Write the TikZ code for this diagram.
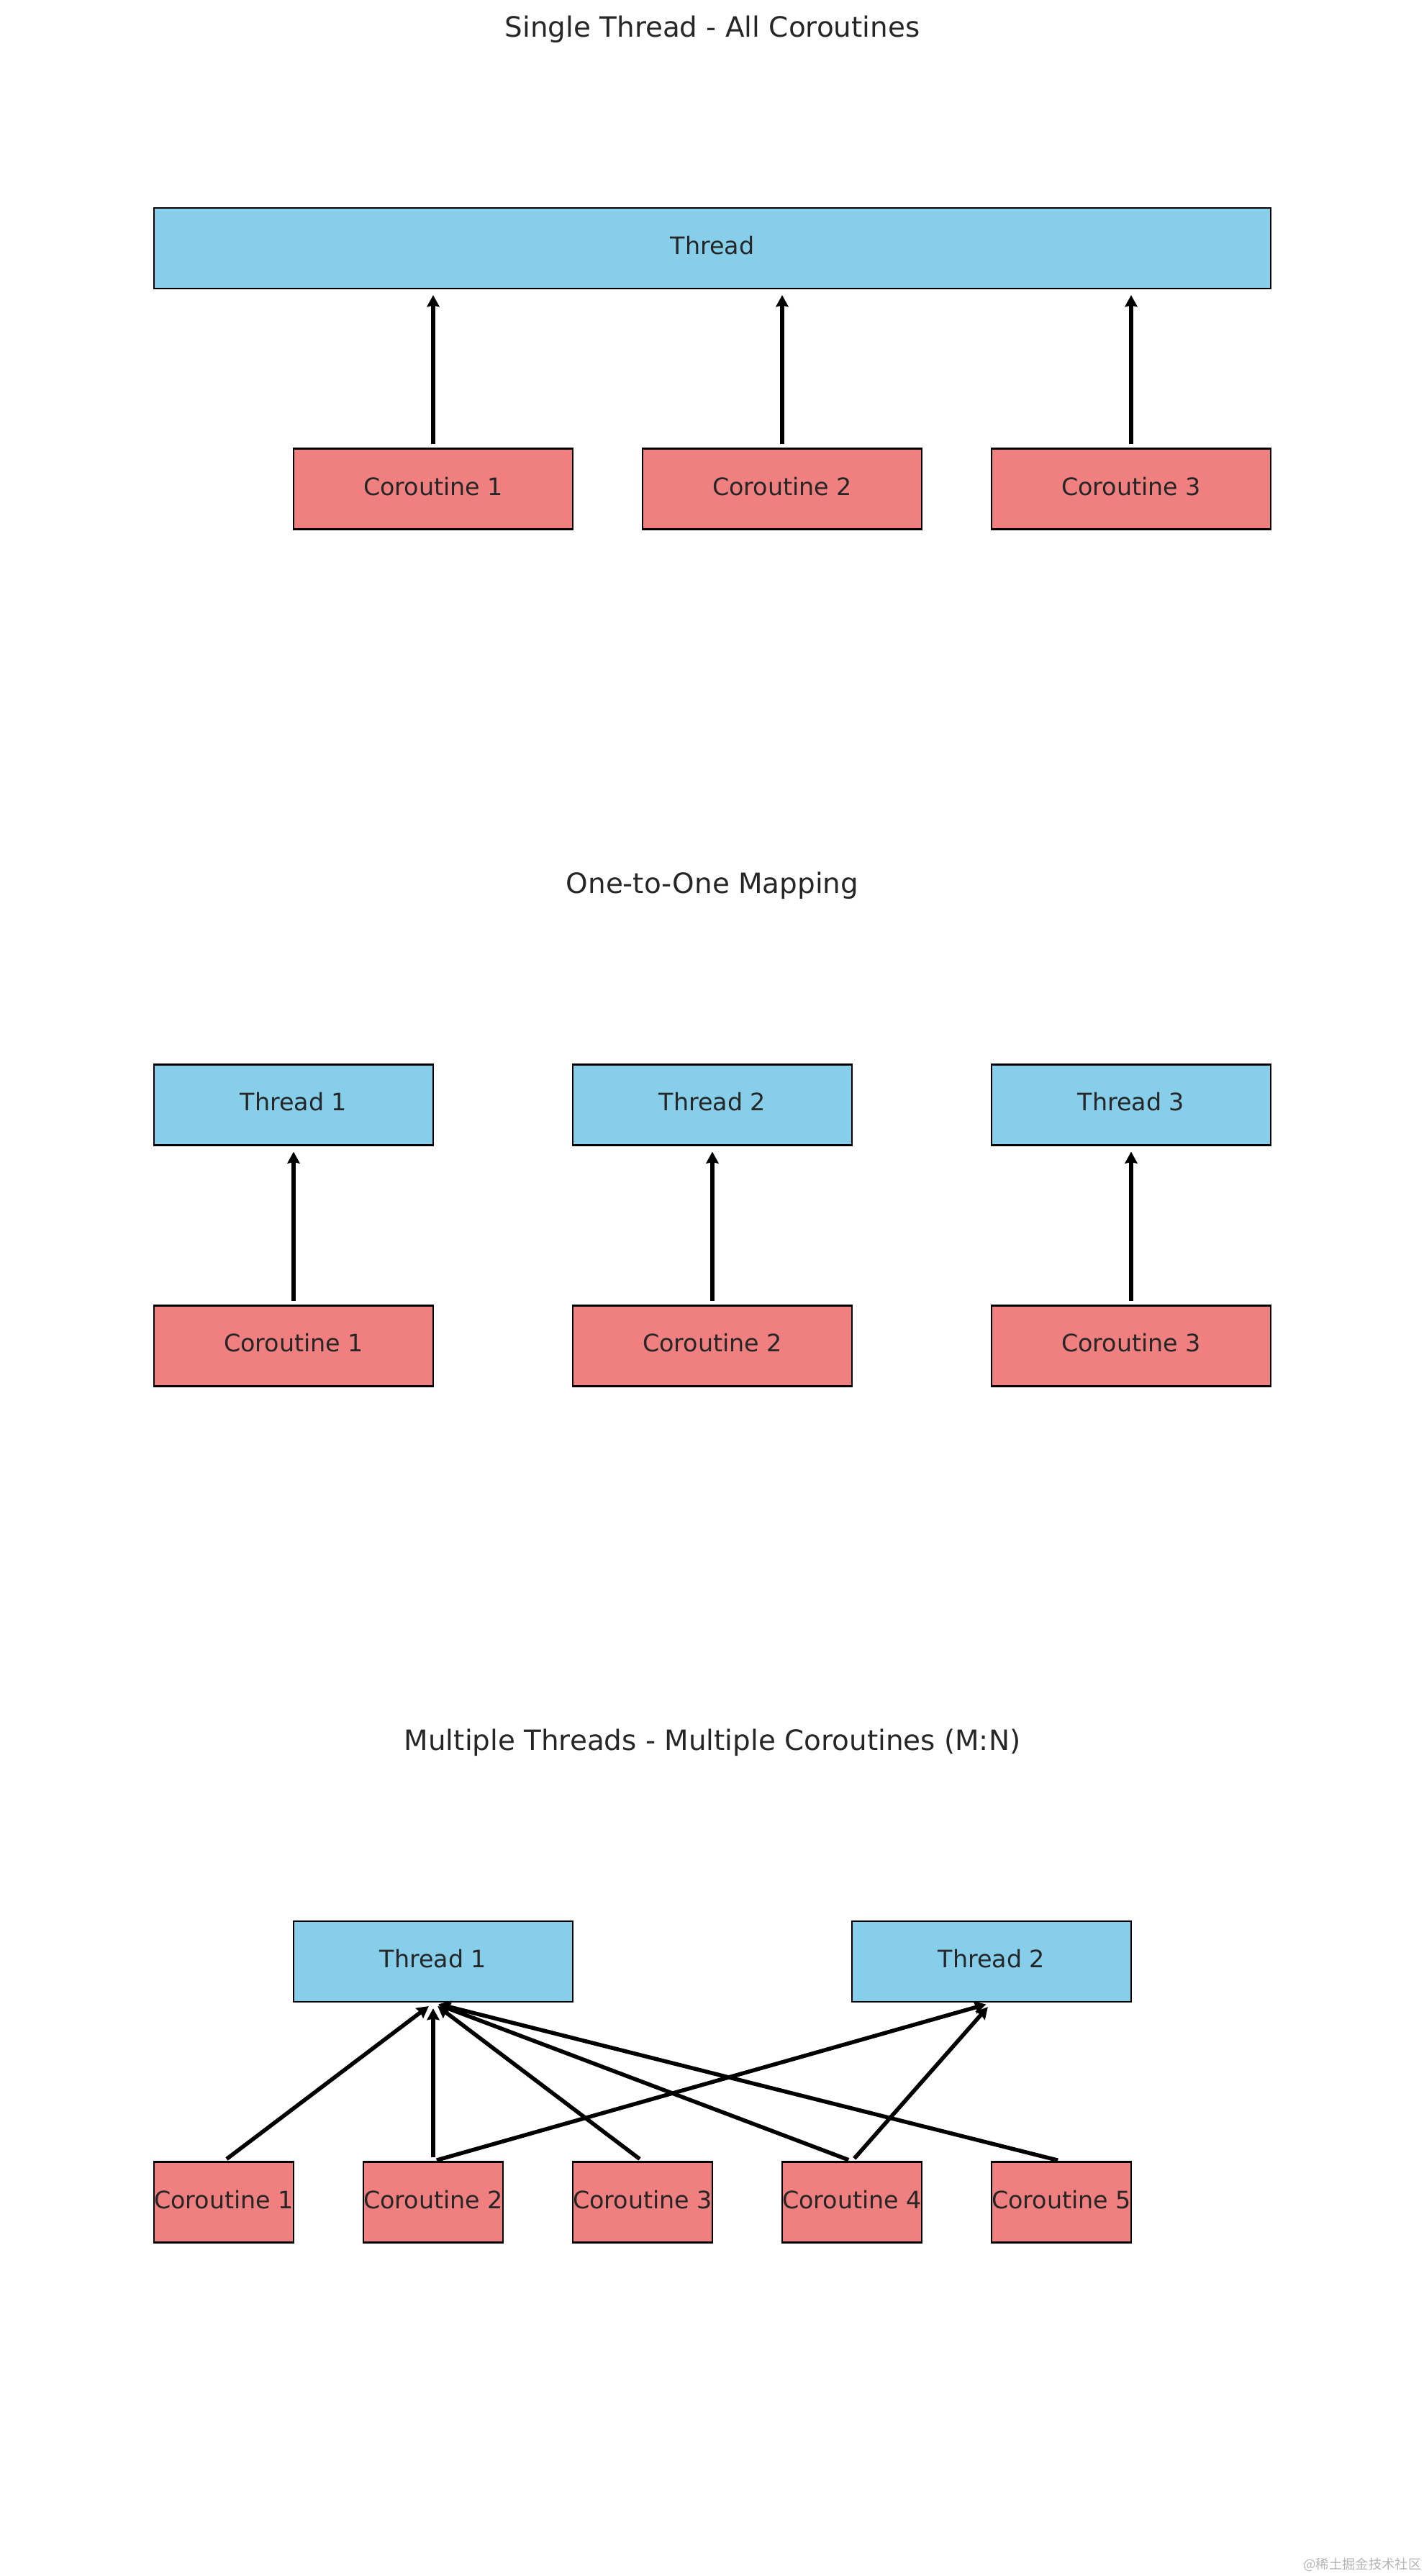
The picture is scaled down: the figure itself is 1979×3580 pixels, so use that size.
\documentclass[tikz,border=0pt]{standalone}
\usepackage{fontspec}
\setmainfont{DejaVu Sans}
\newfontfamily\cjkfont{Noto Sans CJK SC}
\usetikzlibrary{arrows.meta}

\definecolor{skyblue}{HTML}{87CEEB}
\definecolor{lightcoral}{HTML}{F08080}
\definecolor{labelgray}{HTML}{262626}
\definecolor{markgray}{HTML}{B4B4B4}

\tikzset{
  box/.style={draw=black, line width=1pt, inner sep=0pt, minimum height=40.32pt,
    text height=9pt, text depth=3pt, text=labelgray, font=\fontsize{12}{14}\selectfont},
  threadbox/.style={box, fill=skyblue},
  corobox/.style={box, fill=lightcoral},
  wide/.style={minimum width=#1*69.84pt},
  link/.style={->, line width=2pt, shorten <=1.8pt, shorten >=2.8pt},
  paneltitle/.style={anchor=base, text=labelgray, font=\fontsize{14}{17}\selectfont}
}

\begin{document}
\begin{tikzpicture}[x=0.36pt,y=0.36pt,>={Stealth[length=5.8pt,width=6.2pt,inset=0.6pt]}]
\useasboundingbox (0,0) rectangle (1979,3580);

%%%%%%%%%%%%%%%%%%%%%%%%%%%%%%%%%%%%%%%%%%
  % Single thread
  \begin{scope}[xshift=7.2pt, yshift=942.84pt, x=69.84pt, y=80.64pt]
    \node[paneltitle] (title1) at (5,4.062) {Single Thread - All Coroutines};

    \node[threadbox, wide=8] (thread) at (5,2.75) {Thread};

    \node[corobox, wide=2] (coA) at (3,1.255) {Coroutine 1};
    \node[corobox, wide=2] (coB) at (5.5,1.255) {Coroutine 2};
    \node[corobox, wide=2] (coC) at (8,1.255) {Coroutine 3};

    \draw[link] (coA.north) -- (coA.north |- thread.south);
    \draw[link] (coB.north) -- (coB.north |- thread.south);
    \draw[link] (coC.north) -- (coC.north |- thread.south);
  \end{scope}

%%%%%%%%%%%%%%%%%%%%%%%%%%%%%%%%%%%%%%%%%%
  % One thread per coroutine
  \begin{scope}[xshift=7.2pt, yshift=514.26pt, x=69.84pt, y=80.64pt]
    \node[paneltitle] (title2) at (5,4.062) {One-to-One Mapping};

    \node[threadbox, wide=2] (thA) at (2,2.75) {Thread 1};
    \node[threadbox, wide=2] (thB) at (5,2.75) {Thread 2};
    \node[threadbox, wide=2] (thC) at (8,2.75) {Thread 3};

    \node[corobox, wide=2] (coA) at (2,1.255) {Coroutine 1};
    \node[corobox, wide=2] (coB) at (5,1.255) {Coroutine 2};
    \node[corobox, wide=2] (coC) at (8,1.255) {Coroutine 3};

    \draw[link] (coA) -- (thA);
    \draw[link] (coB) -- (thB);
    \draw[link] (coC) -- (thC);
  \end{scope}

%%%%%%%%%%%%%%%%%%%%%%%%%%%%%%%%%%%%%%%%%%
  % M:N
  \begin{scope}[xshift=7.2pt, yshift=85.68pt, x=69.84pt, y=80.64pt]
    \node[paneltitle] (title3) at (5,4.062) {Multiple Threads - Multiple Coroutines (M:N)};

    \node[threadbox, wide=2] (thA) at (3,2.75) {Thread 1};
    \node[threadbox, wide=2] (thB) at (7,2.75) {Thread 2};

    \node[corobox, wide=1] (coA) at (1.5,1.255) {Coroutine 1};
    \node[corobox, wide=1] (coB) at (3,1.255) {Coroutine 2};
    \node[corobox, wide=1] (coC) at (4.5,1.255) {Coroutine 3};
    \node[corobox, wide=1] (coD) at (6,1.255) {Coroutine 4};
    \node[corobox, wide=1] (coE) at (7.5,1.255) {Coroutine 5};

    \draw[link] (coA.north) -- (thA.south);
    \draw[link] (coB.north) -- (thA.south);
    \draw[link] (coB.north) -- (thB.south);
    \draw[link] (coC.north) -- (thA.south);
    \draw[link] (coD.north) -- (thA.south);
    \draw[link] (coD.north) -- (thB.south);
    \draw[link] (coE.north) -- (thA.south);
  \end{scope}

  % Watermark
  \node[anchor=east, inner sep=0pt, text=markgray, font=\cjkfont\fontsize{6.6}{8}\selectfont]
    (mark) at (1976,16) {@稀土掘金技术社区};

\end{tikzpicture}
\end{document}
